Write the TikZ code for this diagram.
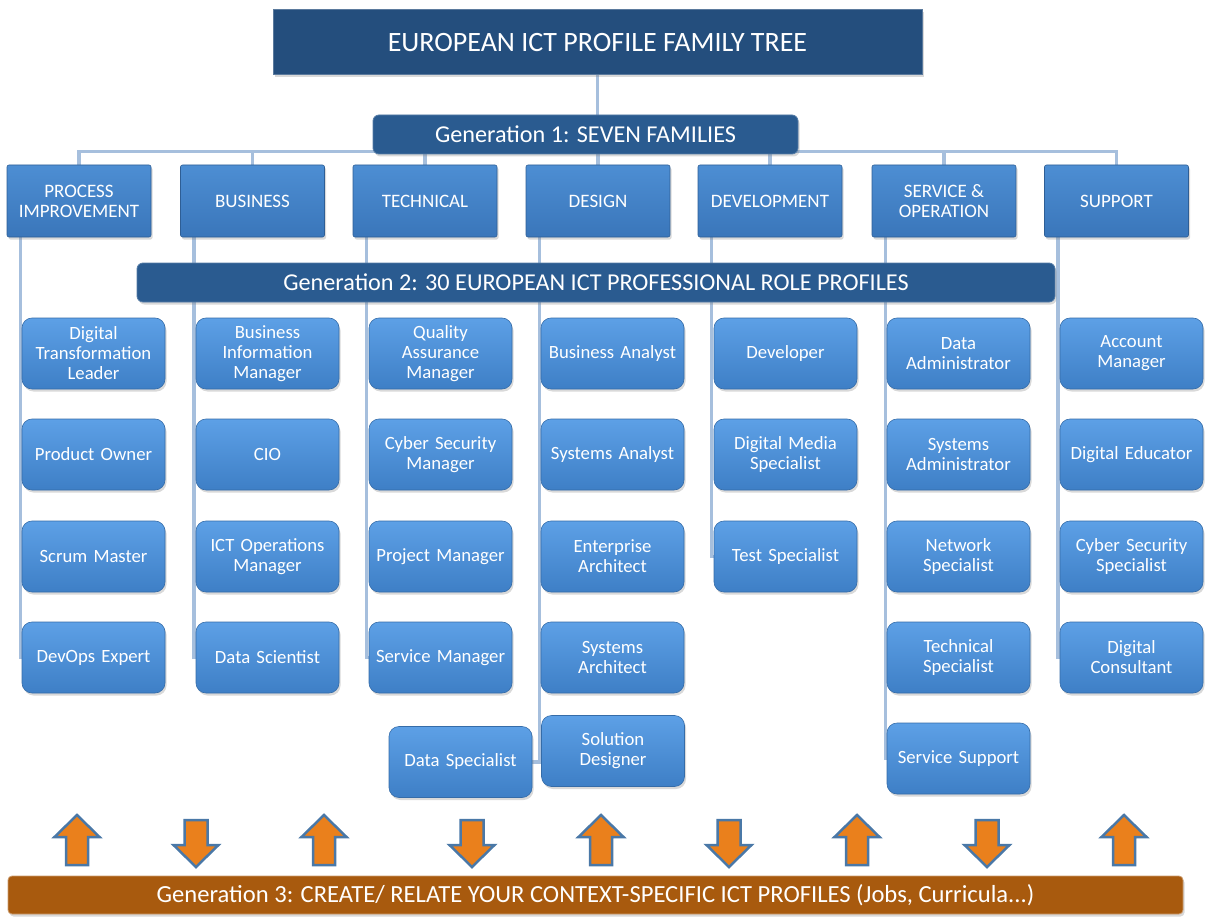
\documentclass[tikz,border=0pt]{standalone}
\usepackage{fontspec}
\setmainfont{Carlito}
\usetikzlibrary{shadows,calc}
\definecolor{titlebg}{HTML}{244E7D}
\definecolor{genbg}{HTML}{2A5B90}
\definecolor{famtop}{HTML}{4D8ED3}
\definecolor{fambot}{HTML}{3A76BA}
\definecolor{roletop}{HTML}{5DA0E6}
\definecolor{rolebot}{HTML}{3E7FC6}
\definecolor{conncol}{HTML}{A6BFDD}
\definecolor{arrfill}{HTML}{EA801C}
\definecolor{arredge}{HTML}{4A78A7}
\definecolor{gthree}{HTML}{A85A0E}
\pgfdeclarelayer{bg}
\pgfsetlayers{bg,main}
\begin{document}
\begin{tikzpicture}[x=1pt,y=-1pt,
  conn/.style={draw=conncol,line width=3.5pt},
  shad/.style={drop shadow={shadow xshift=1.5pt,shadow yshift=-2.5pt,opacity=.3}},
  titlebox/.style={shad,fill=titlebg,draw=titlebg!75!white,line width=1pt,text=white,
    minimum width=649pt,minimum height=65pt,inner sep=0pt,font=\fontsize{28}{30}\selectfont},
  genbar/.style={shad,fill=genbg,draw=genbg!80!white,line width=.8pt,rounded corners=6pt,text=white,
    minimum height=39pt,inner sep=0pt,font=\fontsize{24.2}{26}\selectfont},
  fambox/.style={shad,top color=famtop,bottom color=fambot,draw=fambot!80!black,line width=.6pt,
    rounded corners=2pt,text=white,minimum width=144pt,minimum height=72pt,inner sep=0pt,
    align=center,font=\fontsize{19}{20}\selectfont},
  rolebox/.style={shad,top color=roletop,bottom color=rolebot,draw=rolebot!85!black,line width=.6pt,
    rounded corners=10pt,text=white,minimum width=143pt,minimum height=71pt,inner sep=0pt,
    text width=138pt,align=center,font=\fontsize{18.7}{20}\selectfont},
  gthreebar/.style={shad,fill=gthree,draw=gthree!60!white,line width=.8pt,rounded corners=4pt,
    text=white,minimum width=1175pt,minimum height=38pt,inner sep=0pt,font=\fontsize{24.6}{26}\selectfont},
  arrst/.style={fill=arrfill,draw=arredge,line width=2.5pt,line join=miter},
  uparr/.pic={\draw[arrst] (-11,50) -- (-11,22) -- (-22.5,22) -- (0,0) -- (22.5,22) -- (11,22) -- (11,50) -- cycle;},
  downarr/.pic={\draw[arrst] (-11.5,0) -- (11.5,0) -- (11.5,25) -- (22.5,25) -- (0,47) -- (-22.5,25) -- (-11.5,25) -- cycle;}
]
\useasboundingbox (0,0) rectangle (1211,923);

% headers
\node[titlebox] (title) at (597.5,42.5) {EUROPEAN ICT PROFILE FAMILY TREE};
\node[genbar,minimum width=425pt] (gen1) at (585.5,134.5) {Generation 1: SEVEN FAMILIES};
\node[genbar,minimum width=918pt] (gen2) at (596,282.5) {Generation 2: 30 EUROPEAN ICT PROFESSIONAL ROLE PROFILES};

% families
\node[fambox] (pi) at (79,201) {PROCESS\\IMPROVEMENT};
\node[fambox] (bus) at (252.5,201) {BUSINESS};
\node[fambox] (tech) at (425,201) {TECHNICAL};
\node[fambox] (des) at (598,201) {DESIGN};
\node[fambox] (devf) at (770,201) {DEVELOPMENT};
\node[fambox] (so) at (944,201) {SERVICE \&\\OPERATION};
\node[fambox] (sup) at (1116.5,201) {SUPPORT};

% column 1
\node[rolebox] (dtl) at (93.5,353.5) {Digital\\Transformation\\Leader};
\node[rolebox] (po) at (93.5,454.5) {Product Owner};
\node[rolebox] (sm) at (93.5,556.5) {Scrum Master};
\node[rolebox] (devops) at (93.5,657.5) {DevOps Expert};
% column 2
\node[rolebox] (bim) at (267.5,353.5) {Business\\Information\\Manager};
\node[rolebox] (cio) at (267.5,454.5) {CIO};
\node[rolebox] (ictom) at (267.5,556.5) {ICT Operations\\Manager};
\node[rolebox] (dsci) at (267.5,657.5) {Data Scientist};
% column 3
\node[rolebox] (qam) at (440.5,353.5) {Quality\\Assurance\\Manager};
\node[rolebox] (csm) at (440.5,454.5) {Cyber Security\\Manager};
\node[rolebox] (pm) at (440.5,556.5) {Project Manager};
\node[rolebox] (svm) at (440.5,657.5) {Service Manager};
\node[rolebox] (dspec) at (460.5,762) {Data Specialist};
% column 4
\node[rolebox] (ba) at (612.5,353.5) {Business Analyst};
\node[rolebox] (sa) at (612.5,454.5) {Systems Analyst};
\node[rolebox] (ea) at (612.5,556.5) {Enterprise\\Architect};
\node[rolebox] (sarch) at (612.5,657.5) {Systems\\Architect};
\node[rolebox] (sold) at (613,751) {Solution\\Designer};
% column 5
\node[rolebox] (dev) at (785.5,353.5) {Developer};
\node[rolebox] (dms) at (785.5,454.5) {Digital Media\\Specialist};
\node[rolebox] (ts) at (785.5,556.5) {Test Specialist};
% column 6
\node[rolebox] (da) at (958.5,353.5) {Data\\Administrator};
\node[rolebox] (sysad) at (958.5,454.5) {Systems\\Administrator};
\node[rolebox] (ns) at (958.5,556.5) {Network\\Specialist};
\node[rolebox] (techs) at (958.5,657.5) {Technical\\Specialist};
\node[rolebox] (ss) at (958.5,758.5) {Service Support};
% column 7
\node[rolebox] (am) at (1131.5,353.5) {Account\\Manager};
\node[rolebox] (de) at (1131.5,454.5) {Digital Educator};
\node[rolebox] (css) at (1131.5,556.5) {Cyber Security\\Specialist};
\node[rolebox] (dc) at (1131.5,657.5) {Digital\\Consultant};

% generation 3
\node[gthreebar] (gen3) at (595.5,895) {Generation 3: CREATE/ RELATE YOUR CONTEXT-SPECIFIC ICT PROFILES (Jobs, Curricula...)};

% arrows
\pic at (77,815) {uparr};
\pic at (196,820) {downarr};
\pic at (324,815) {uparr};
\pic at (472,820) {downarr};
\pic at (601,815) {uparr};
\pic at (729,820) {downarr};
\pic at (857,815) {uparr};
\pic at (987,820) {downarr};
\pic at (1124,815) {uparr};

% connectors
\begin{pgfonlayer}{bg}
\draw[conn] (title.south) -- (title.south |- gen1.north);
\coordinate (busline) at ($(pi.north)+(0,-13)$);
\draw[conn] (pi.north) -- (busline) -| (sup.north);
\foreach \f in {bus,tech,des,devf,so}{
  \draw[conn] (\f.north) -- (\f.north |- busline);
}
\draw[conn] ([xshift=14pt]pi.south west) |- (devops.west);
\draw[conn] ([xshift=14pt]bus.south west) |- (dsci.west);
\draw[conn] ([xshift=14pt]tech.south west) |- (svm.west);
\draw[conn] ([xshift=14pt]des.south west) |- (dspec.east);
\draw[conn] ([xshift=14pt]devf.south west) |- (ts.west);
\draw[conn] ([xshift=14pt]so.south west) |- (ss.west);
\draw[conn] ([xshift=14pt]sup.south west) |- (dc.west);
\end{pgfonlayer}
\end{tikzpicture}
\end{document}
